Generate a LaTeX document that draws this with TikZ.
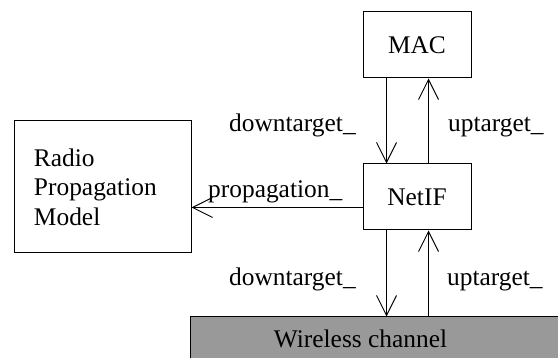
\documentclass[tikz,border=0pt]{standalone}
\usepackage{fontspec}
\setmainfont{Liberation Serif}
\newfontfamily\tnrfont{Liberation Serif}
\usetikzlibrary{arrows.meta}
\definecolor{chgray}{RGB}{153,153,153}
\begin{document}
\begin{tikzpicture}[x=1pt,y=-1pt,
  every node/.style={font=\tnrfont\fontsize{25.4}{29.5}\selectfont},
  boxnode/.style={draw=black,line width=1pt,inner sep=0pt},
  lbl/.style={inner sep=0pt,anchor=base west},
  conn/.style={line width=1pt,-{Straight Barb[length=20pt,width=20pt,line width=1pt]}}]
\useasboundingbox (0,0) rectangle (558,358);
\fill[white] (0,0) rectangle (558,358);
% boxes
\node[boxnode,minimum width=108pt,minimum height=66pt] (mac) at (417,45) {MAC};
\node[boxnode,minimum width=108pt,minimum height=66pt] (netif) at (417,197) {NetIF};
\node[boxnode,minimum width=177pt,minimum height=132pt,align=left,text width=137pt,inner xsep=20pt] (radio) at (102.5,187) {Radio\\Propagation\\Model};
\node[boxnode,fill=chgray,minimum width=380pt,minimum height=62pt] (chan) at (380,348) {};
\node[inner sep=0pt,anchor=base] (chantext) at (360.5,348) {Wireless channel};
% connector x/y positions
\coordinate (xdown) at (386.5,0);
\coordinate (xup) at (428.5,0);
\coordinate (yprop) at (0,207.5);
% connectors
\draw[conn] (mac.south -| xdown) -- (netif.north -| xdown);
\draw[conn] (netif.north -| xup) -- (mac.south -| xup);
\draw[conn] (netif.south -| xdown) -- (chan.north -| xdown);
\draw[conn] (chan.north -| xup) -- (netif.south -| xup);
\draw[conn] (netif.west |- yprop) -- (radio.east |- yprop);
% labels
\node[lbl] (l1) at (229,131.7) {downtarget\_};
\node[lbl] (l2) at (448,132) {uptarget\_};
\node[lbl] (l3) at (208,198) {propagation\_};
\node[lbl] (l4) at (229,286) {downtarget\_};
\node[lbl] (l5) at (447,286) {uptarget\_};
\end{tikzpicture}
\end{document}
